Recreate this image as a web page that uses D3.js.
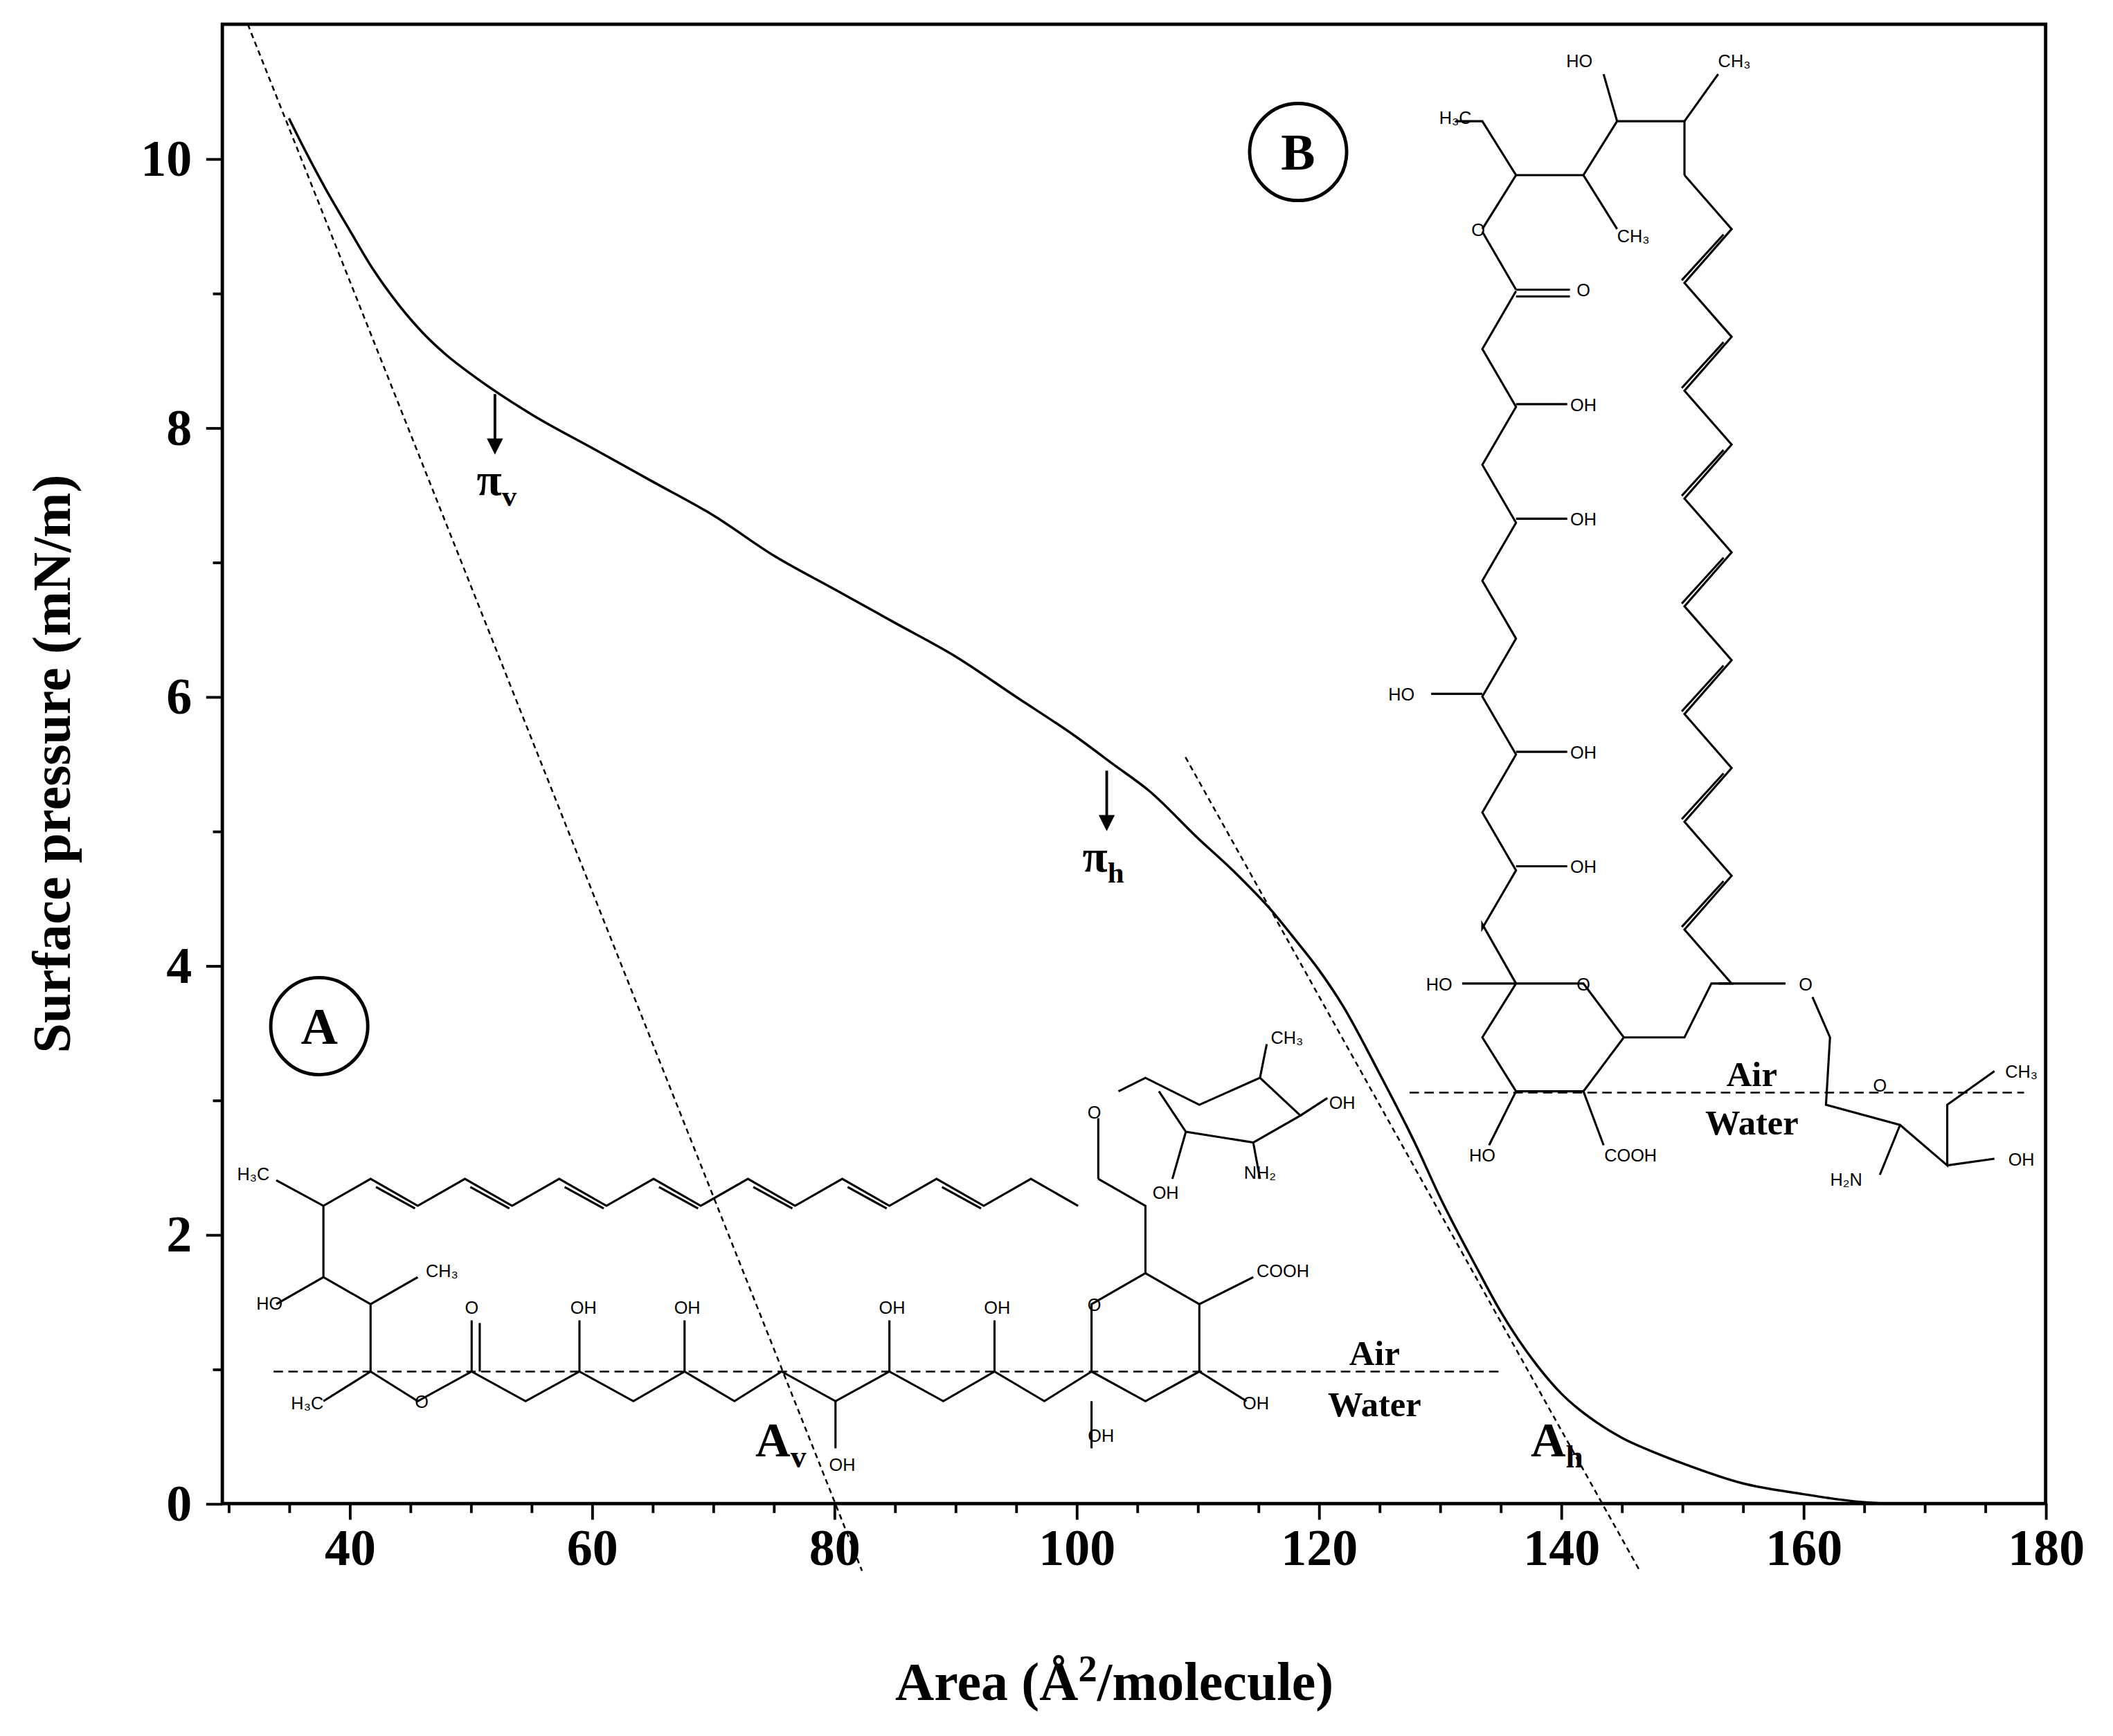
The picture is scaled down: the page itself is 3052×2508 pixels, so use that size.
<!DOCTYPE html>
<html><head><meta charset="utf-8">
<script src="https://cdn.jsdelivr.net/npm/d3@7"></script>
<style>body{margin:0;background:#fff}svg{display:block}</style>
</head><body>
<svg id="c" width="3052" height="2508"></svg>
<script>
// isotherm (area in Å²/molecule, surface pressure in mN/m)
const area = [35,36,38,40,42,44,46,48,50,55,60,65,70,75,80,85,90,95,100,103,106,110,113,116,118,120,122,125,128,130,133,135,138,140,143,145,148,150,155,160,163,165,167];
const pressure = [10.3,10.12,9.78,9.47,9.17,8.92,8.71,8.54,8.4,8.1,7.85,7.6,7.35,7.05,6.8,6.55,6.3,6.0,5.7,5.5,5.3,4.95,4.7,4.42,4.2,3.97,3.7,3.2,2.67,2.28,1.76,1.43,1.03,0.82,0.6,0.49,0.37,0.3,0.15,0.07,0.03,0.01,0];
const tangentV = [[31.6,11],[82.3,-0.5]];
const tangentH = [[109,5.55],[146.5,-0.5]];
const xTicks = [40,60,80,100,120,140,160,180];
const yTicks = [0,2,4,6,8,10];

const k = 3052/1568;
const svg = d3.select('#c');
const g = svg.append('g').attr('transform', `scale(${k})`);
const font = '"Liberation Serif","Times New Roman",serif';

const x = d3.scaleLinear().domain([29.5,180]).range([165,1518]);
const y = d3.scaleLinear().domain([0,11]).range([1116,18]);

g.append('rect').attr('x',165).attr('y',18).attr('width',1353).attr('height',1098)
  .attr('fill','none').attr('stroke','#000').attr('stroke-width',2.5);

const xa = g.append('g').attr('transform','translate(0,1116)')
  .call(d3.axisBottom(x).tickValues(d3.range(30,181,5)).tickSize(12).tickFormat(d => xTicks.includes(d) ? d : ''));
const ya = g.append('g').attr('transform','translate(165,0)')
  .call(d3.axisLeft(y).tickValues(d3.range(0,11,1)).tickSize(12).tickFormat(d => yTicks.includes(d) ? d : ''));
[xa,ya].forEach(a => {
  a.select('.domain').remove();
  a.selectAll('line').attr('stroke-width',2);
  a.selectAll('text').attr('font-family',font).attr('font-weight','bold').attr('font-size',38);
});
xa.selectAll('line').filter(d => d % 20 !== 0).attr('y2',7);
ya.selectAll('line').filter(d => d % 2 !== 0).attr('x2',-7);
xa.selectAll('text').attr('dy','0.8em');
ya.selectAll('text').attr('dx','-0.2em');

g.append('text').attr('x',827).attr('y',1262).attr('text-anchor','middle')
  .attr('font-family',font).attr('font-weight','bold').attr('font-size',40)
  .html('Area (Å<tspan dy="-14" font-size="28">2</tspan><tspan dy="14">/molecule)</tspan>');
g.append('text').attr('transform','translate(52,567) rotate(-90)').attr('text-anchor','middle')
  .attr('font-family',font).attr('font-weight','bold').attr('font-size',40).text('Surface pressure (mN/m)');

const defs = svg.append('defs');
defs.append('clipPath').attr('id','pc').append('rect').attr('x',165).attr('y',18).attr('width',1353).attr('height',1160);

const line = d3.line().x(d => x(d[0])).y(d => y(d[1])).curve(d3.curveMonotoneX);
g.append('path').datum(area.map((a,i) => [a,pressure[i]])).attr('d', line)
  .attr('fill','none').attr('stroke','#000').attr('stroke-width',1.8);
const ln = d3.line().x(d => x(d[0])).y(d => y(d[1]));
[tangentV, tangentH].forEach(t => g.append('path').datum(t).attr('d', ln).attr('clip-path','url(#pc)')
  .attr('fill','none').attr('stroke','#000').attr('stroke-width',1.3).attr('stroke-dasharray','4,3'));

// arrows and labels
function arrow(ax, y0, y1) {
  g.append('line').attr('x1',x(ax)).attr('x2',x(ax)).attr('y1',y(y0)).attr('y2',y(y1)-6).attr('stroke','#000').attr('stroke-width',2);
  g.append('path').attr('d',`M${x(ax)-6},${y(y1)-12}L${x(ax)+6},${y(y1)-12}L${x(ax)},${y(y1)}Z`).attr('fill','#000');
}
arrow(52,8.25,7.8); arrow(102.5,5.45,5.0);
function lab(tx, ty, main, sub, fs) {
  g.append('text').attr('x',x(tx)).attr('y',y(ty)).attr('font-family',font).attr('font-weight','bold').attr('font-size',fs)
    .html(`${main}<tspan dy="8" font-size="${fs*0.65}">${sub}</tspan>`);
}
lab(50.5,7.5,'π','v',34); lab(100.5,4.7,'π','h',34);
lab(73.5,0.35,'A','v',36); lab(137.5,0.35,'A','h',36);
function circ(cx, cy, t) {
  g.append('circle').attr('cx',x(cx)).attr('cy',y(cy)).attr('r',36).attr('fill','none').attr('stroke','#000').attr('stroke-width',2.5);
  g.append('text').attr('x',x(cx)).attr('y',y(cy)+13).attr('text-anchor','middle').attr('font-family',font).attr('font-weight','bold').attr('font-size',38).text(t);
}
circ(37.5,3.55,'A'); circ(118.3,10.05,'B');

// molecule sketches (display-space decoration)
const m = g.append('g').attr('fill','none').attr('stroke','#000').attr('stroke-width',1.6);
const small = (tx,ty,t,anchor) => g.append('text').attr('x',tx).attr('y',ty).attr('font-family','"Liberation Sans",Arial,sans-serif')
  .attr('font-size',13).attr('text-anchor',anchor||'middle').text(t);
const pl = pts => m.append('path').attr('d', d3.line()(pts));

// structure A
const polyA = d3.range(0,17).map(i => [240+i*35, i%2 ? 875 : 895]);
pl([[205,876]].concat(polyA));
for (let i=1;i<15;i+=2) pl([[polyA[i][0]+4,polyA[i][1]+6],[polyA[i+1][0]-2,polyA[i+1][1]+2]]);
pl([[815,875],[850,895],[850,945],[810,968],[810,1018],[850,1040],[890,1018],[890,968],[850,945]]);
pl([[240,895],[240,948],[275,968],[275,1018],[310,1040],[350,1018],[390,1040],[430,1018],[470,1040],[508,1018],[545,1040],[580,1018],[620,1040],[660,1018],[700,1040],[738,1018],[775,1040],[810,1018]]);
pl([[240,948],[205,968]]); pl([[275,968],[310,948]]); pl([[275,1018],[240,1040]]);
pl([[350,1018],[350,980]]); pl([[356,1018],[356,982]]);
[430,508,660,738].forEach(px => pl([[px,1018],[px,980]]));
[620,810].forEach(px => pl([[px,1040],[px,1075]]));
pl([[890,968],[930,948]]); pl([[890,1018],[925,1040]]); pl([[815,875],[815,830]]);
pl([[830,810],[850,800],[890,820],[935,800],[965,828],[930,848],[880,840],[860,810]]);
pl([[935,800],[940,775]]); pl([[965,828],[985,815]]); pl([[930,848],[935,875]]); pl([[880,840],[870,875]]);
[[188,876,'H₃C'],[200,972,'HO'],[328,948,'CH₃'],[350,975,'O'],[228,1046,'H₃C'],[313,1045,'O'],[433,975,'OH'],[510,975,'OH'],[662,975,'OH'],[740,975,'OH'],[625,1092,'OH'],[817,1070,'OH'],[812,973,'O'],[952,948,'COOH'],[932,1046,'OH'],[812,830,'O'],[955,775,'CH₃'],[996,823,'OH'],[935,875,'NH₂'],[865,890,'OH']]
  .forEach(d => small(d[0],d[1],d[2]));
[[203,1115,1018],[1046,1502,811]].forEach(d => g.append('line').attr('x1',d[0]).attr('x2',d[1]).attr('y1',d[2]).attr('y2',d[2])
  .attr('stroke','#000').attr('stroke-width',1.3).attr('stroke-dasharray','7,4'));
[[1020,1013,'Air'],[1020,1051,'Water'],[1300,806,'Air'],[1300,842,'Water']].forEach(d =>
  g.append('text').attr('x',d[0]).attr('y',d[1]).attr('text-anchor','middle').attr('font-family',font).attr('font-weight','bold').attr('font-size',26).text(d[2]));

// structure B
const chainB = d3.range(0,14).map(i => [i%2 ? 1100 : 1125, 130+i*43]);
pl([[1100,170]].concat([[1125,130]]));
pl(chainB.slice(2).concat([[1100,686],[1125,730]]));
pl([[1100,172],[1125,215]]); pl([[1125,215],[1165,215]]); pl([[1125,220],[1165,220]]);
pl([[1125,130],[1175,130],[1200,90],[1250,90],[1250,130]]); pl([[1125,130],[1100,90],[1080,90]]);
pl([[1175,130],[1200,170]]); pl([[1200,90],[1190,55]]); pl([[1250,90],[1275,55]]);
const polyB = d3.range(0,16).map(i => [i%2 ? 1285 : 1250, 130+i*40]);
pl(polyB.concat([[1270,730],[1250,770],[1205,770]]));
for (let i=1;i<14;i+=2) pl([[polyB[i][0]-6,polyB[i][1]+4],[polyB[i+1][0]-2,polyB[i+1][1]-2]]);
pl([[1125,730],[1175,730],[1205,770],[1175,810],[1125,810],[1100,770],[1125,730]]);
[[1125,300],[1125,385],[1100,515],[1125,558],[1125,643]].forEach((p,i) =>
  pl(i===2 ? [[p[0],p[1]],[p[0]-38,p[1]]] : [[p[0],p[1]],[p[0]+38,p[1]]]));
pl([[1125,730],[1085,730]]); pl([[1125,810],[1105,850]]); pl([[1175,810],[1190,850]]);
pl([[1275,730],[1325,730]]);
pl([[1345,740],[1358,770],[1355,820],[1410,835],[1445,865],[1445,820],[1480,795]]);
pl([[1445,865],[1480,860]]); pl([[1410,835],[1395,872]]);
[[1172,50,'HO'],[1287,50,'CH₃'],[1080,92,'H₃C'],[1212,180,'CH₃'],[1097,175,'O'],[1175,220,'O'],[1175,305,'OH'],[1175,390,'OH'],[1040,520,'HO'],[1175,563,'OH'],[1175,648,'OH'],[1068,735,'HO'],[1175,735,'O'],[1100,862,'HO'],[1210,862,'COOH'],[1340,735,'O'],[1500,800,'CH₃'],[1370,880,'H₂N'],[1500,865,'OH'],[1395,810,'O']]
  .forEach(d => small(d[0],d[1],d[2]));
</script>
</body></html>
